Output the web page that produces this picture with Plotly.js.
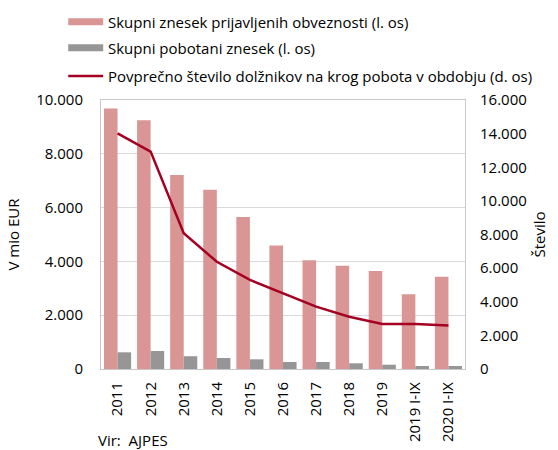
<!DOCTYPE html>
<html>
<head>
<meta charset="utf-8">
<script src="https://cdn.plot.ly/plotly-3.0.1.min.js"></script>
<style>html,body{margin:0;padding:0;background:#fff;}#chart{width:558px;height:450px;}</style>
</head>
<body>
<div id="chart"></div>
<script>
const categories = ['2011','2012','2013','2014','2015','2016','2017','2018','2019','2019 I-IX','2020 I-IX'];
const prijavljeneObveznosti = [9680, 9250, 7210, 6660, 5650, 4590, 4040, 3840, 3640, 2780, 3430];
const pobotaniZnesek = [620, 670, 475, 410, 360, 260, 260, 212, 160, 112, 112];
const povprecnoDolznikov = [14020, 12930, 8070, 6380, 5300, 4500, 3710, 3110, 2680, 2680, 2580];
const leftTicks = [0, 2000, 4000, 6000, 8000, 10000];
const rightTicks = [0, 2000, 4000, 6000, 8000, 10000, 12000, 14000, 16000];
const seriesNames = ['Skupni znesek prijavljenih obveznosti (l. os)',
  'Skupni pobotani znesek (l. os)',
  'Povprečno število dolžnikov na krog pobota v obdobju (d. os)'];
const seriesColors = ['#D99694', '#969696', '#A50021'];

const FONT = 'Open Sans, sans-serif';
const fmt = v => v.toLocaleString('de-DE');

const traces = [
  {type:'bar', x:categories, y:prijavljeneObveznosti, name:seriesNames[0],
   marker:{color:seriesColors[0]}, yaxis:'y'},
  {type:'bar', x:categories, y:pobotaniZnesek, name:seriesNames[1],
   marker:{color:seriesColors[1]}, yaxis:'y'},
  {type:'scatter', mode:'lines', x:categories, y:povprecnoDolznikov, name:seriesNames[2],
   line:{color:seriesColors[2], width:2.5}, yaxis:'y2'}
];

// hand-drawn legend (wide swatches as in the reference)
const legX0 = -0.09, legX1 = 0.006, legTextX = 0.014;
const legRows = [1.291, 1.194, 1.089];
const swatchH = 0.013;
const shapes = [
  {type:'rect', xref:'paper', yref:'paper', x0:legX0, x1:legX1, y0:legRows[0]-swatchH, y1:legRows[0]+swatchH,
   fillcolor:seriesColors[0], line:{width:0}},
  {type:'rect', xref:'paper', yref:'paper', x0:legX0, x1:legX1, y0:legRows[1]-swatchH, y1:legRows[1]+swatchH,
   fillcolor:seriesColors[1], line:{width:0}},
  {type:'line', xref:'paper', yref:'paper', x0:legX0, x1:legX1, y0:legRows[2], y1:legRows[2],
   line:{color:seriesColors[2], width:2.5}}
];
const legendTexts = seriesNames.map((t, i) => ({
  xref:'paper', yref:'paper', x:legTextX, y:legRows[i], xanchor:'left', yanchor:'middle',
  showarrow:false, text:t, font:{family:FONT, size:15, color:'#000'}
}));

const layout = {
  width:558, height:450,
  margin:{l:101, r:93, t:100, b:81},
  paper_bgcolor:'#fff', plot_bgcolor:'#fff',
  font:{family:FONT, size:14, color:'#000'},
  barmode:'group', bargap:0.18, bargroupgap:0,
  showlegend:false,
  xaxis:{type:'category', tickangle:-90, tickfont:{size:15}, showgrid:false,
    showline:true, linecolor:'#c8c8c8', linewidth:1, mirror:true, ticks:'', ticklabelstandoff:6},
  yaxis:{range:[0,10000], tickvals:leftTicks, ticktext:leftTicks.map(fmt), tickfont:{size:15},
    showgrid:true, gridcolor:'#d9d9d9', gridwidth:1, zeroline:false,
    showline:true, linecolor:'#c8c8c8', linewidth:1, mirror:true, ticks:'', ticklabelstandoff:14,
    title:{text:'V mio EUR', font:{size:15}, standoff:12}},
  yaxis2:{overlaying:'y', side:'right', range:[0,16000], tickvals:rightTicks, ticktext:rightTicks.map(fmt),
    tickfont:{size:15}, showgrid:false, zeroline:false, showline:false, ticks:'', ticklabelstandoff:14,
    title:{text:'Število', font:{size:15}, standoff:8}},
  shapes: shapes,
  annotations: legendTexts.concat([
    {xref:'paper', yref:'paper', x:-0.013, y:-0.265, xanchor:'left', yanchor:'middle', showarrow:false,
     text:'Vir:  AJPES', font:{family:FONT, size:15, color:'#000'}}
  ])
};

Plotly.newPlot('chart', traces, layout, {displayModeBar:false, staticPlot:true});
</script>
</body>
</html>
